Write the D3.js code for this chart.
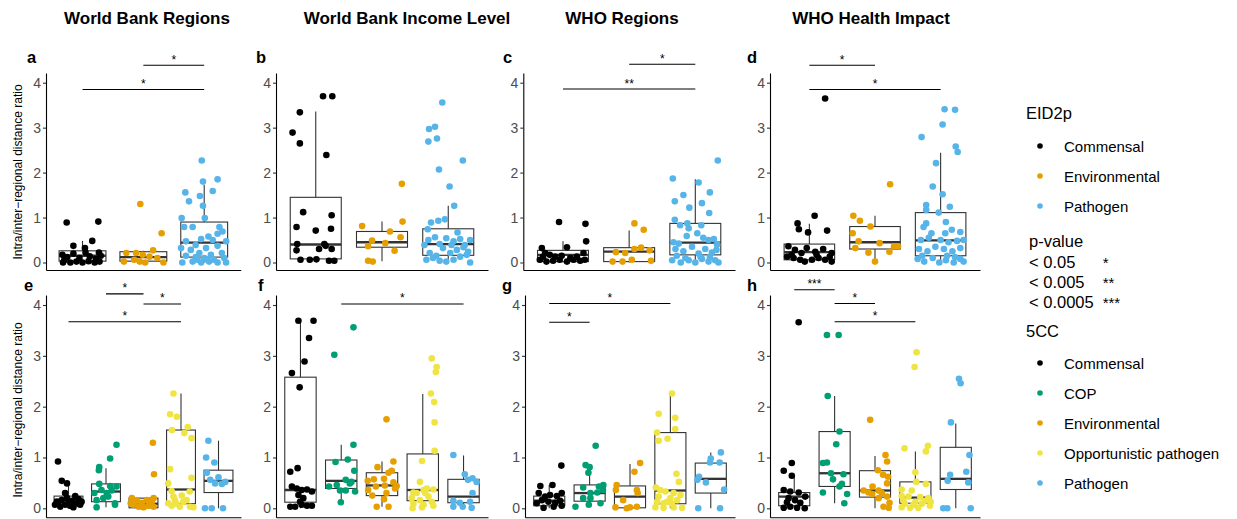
<!DOCTYPE html>
<html>
<head>
<meta charset="utf-8">
<script src="https://cdn.jsdelivr.net/npm/d3@7"></script>
<style>
  body { margin: 0; background: #fff; }
  text { font-family: "Liberation Sans", Arial, Helvetica, sans-serif; }
</style>
</head>
<body>
<svg id="chart" width="1237" height="519"></svg>
<script>
// categories
var eidCats = ["Commensal", "Environmental", "Pathogen"];
var ccCats = ["Commensal", "COP", "Environmental", "Opportunistic pathogen", "Pathogen"];
var catColors = {
  "Commensal": "#000000",
  "COP": "#009E73",
  "Environmental": "#E69F00",
  "Opportunistic pathogen": "#F0E442",
  "Pathogen": "#56B4E9"
};
var columnTitles = ["World Bank Regions", "World Bank Income Level", "WHO Regions", "WHO Health Impact"];
var yTicks = [0, 1, 2, 3, 4];
var yTitle = "Intra/inter\u2212regional distance ratio";
var pLegend = [["< 0.05", "*"], ["< 0.005", "**"], ["< 0.0005", "***"]];

// points: [jitter (fraction of category step), ratio]
var ptsA = [
  [[-0.26,0.89],[0.26,0.91],[-0.15,0.37],[0.16,0.48],[0.04,0.32],[-0.33,0.17],[0.27,0.22],[-0.3,0.05],[-0.2,0],[-0.1,0.02],[0,0],[0.1,0.03],[0.2,0],[0.28,0.02],[-0.25,0.12],[-0.05,0.1],[0.12,0.14],[0.22,0.08],[-0.15,0.2],[0.05,0.22],[0.3,0.15],[-0.32,0]],
  [[-0.05,1.3],[0.3,0.65],[-0.32,0.02],[-0.15,0.06],[-0.12,0.21],[-0.01,0.17],[0.03,0],[0.16,0.27],[0.23,0.1],[-0.28,0.21],[0.1,0.13],[0.33,0],[-0.06,0.02]],
  [[-0.04,2.27],[-0.31,1.56],[-0.07,1.48],[-0.25,1.36],[0.22,1.85],[-0.02,1.8],[0.14,1.59],[-0.02,1.26],[-0.37,0.99],[0.01,0.99],[-0.33,0.79],[-0.19,0.79],[0.25,0.79],[0.3,0.69],[0.07,0.58],[0.22,0.64],[-0.05,0.52],[0.14,0.5],[-0.3,0.47],[0.36,0.47],[-0.14,0.39],[0.03,0.32],[0.22,0.37],[-0.38,0.32],[-0.22,0.28],[-0.08,0.21],[0.11,0.17],[0.29,0.21],[-0.3,0.15],[-0.14,0.12],[0,0.1],[0.16,0.06],[0.33,0.1],[-0.36,0],[-0.19,0.02],[-0.05,0],[0.08,0.02],[0.22,0],[0.36,0],[0.05,0.06],[-0.11,0.06]]
];
var ptsB = [
  [[-0.24,3.34],[-0.35,2.89],[-0.24,2.65],[0.11,3.7],[0.25,3.7],[0.16,2.39],[-0.19,1.12],[0.24,1.05],[-0.29,0.79],[0,0.71],[0.23,0.75],[-0.28,0.41],[-0.29,0.27],[0.05,0.3],[0.13,0.41],[0.24,0.3],[-0.23,0.06],[-0.09,0.06],[0.01,0.07],[0.2,0.04],[0.28,0.04],[0.15,0.37]],
  [[-0.3,0.81],[0.31,0.91],[0.12,0.69],[0.3,1.75],[-0.15,0.49],[-0.21,0.36],[0.05,0.43],[0.19,0.26],[0.28,0.56],[-0.21,0.04],[-0.14,0.02]],
  [[-0.09,3.56],[-0.29,2.97],[-0.2,3.02],[-0.3,2.69],[-0.17,2.76],[-0.14,2.07],[0.22,2.27],[0.02,1.69],[0.09,1.26],[-0.26,0.89],[-0.15,0.93],[-0.05,0.96],[-0.31,0.74],[0.14,0.67],[-0.3,0.5],[-0.2,0.56],[-0.13,0.41],[-0.03,0.54],[0.08,0.47],[0.18,0.52],[0.25,0.39],[0.33,0.5],[-0.28,0.21],[-0.18,0.15],[-0.08,0.32],[0.03,0.21],[0.13,0.28],[0.23,0.34],[0.3,0.24],[-0.33,0.06],[-0.23,0.1],[-0.13,0.04],[-0.03,0.02],[0.08,0.06],[0.18,0.13],[0.28,0.17],[0.33,0],[0.05,0.39],[-0.36,0.39]]
];
var ptsC = [
  [[-0.06,0.9],[0.34,0.86],[0.35,0.47],[0.06,0.34],[-0.32,0.32],[-0.27,0.21],[-0.2,0.17],[-0.12,0.13],[-0.02,0.15],[0.11,0.1],[0.21,0.13],[0.31,0.21],[-0.35,0.06],[-0.25,0.02],[-0.15,0.04],[-0.05,0.06],[0.06,0.02],[0.16,0.06],[0.26,0.04],[0.33,0.06],[-0.3,0.13]],
  [[0.08,0.87],[0.22,0.73],[-0.2,0.23],[0.08,0.3],[0.18,0.33],[0.31,0.27],[-0.25,0.02],[-0.1,0.02],[0.04,0.06],[0.33,0.04],[-0.06,0.21]],
  [[0.34,2.27],[-0.34,1.87],[0.05,1.78],[0.22,1.56],[-0.18,1.5],[-0.31,1.36],[0.1,1.32],[-0.09,1.22],[0.21,1.1],[-0.31,0.95],[-0.12,0.87],[-0.23,0.83],[-0.1,0.76],[0.09,0.83],[0.03,0.65],[-0.13,0.59],[-0.33,0.45],[-0.25,0.42],[0.12,0.55],[0.2,0.5],[0.28,0.52],[0.33,0.4],[-0.3,0.3],[-0.18,0.25],[-0.05,0.35],[0.05,0.2],[0.15,0.3],[0.25,0.22],[0.32,0.28],[-0.35,0.05],[-0.22,0],[-0.1,0.05],[0,0],[0.1,0.08],[0.2,0.02],[0.3,0.05],[-0.28,0.15],[0.08,0.12],[0.22,0.12],[-0.15,0.1],[0.35,0]]
];
var ptsD = [
  [[0.24,3.65],[0.08,1.04],[-0.18,0.87],[-0.16,0.74],[-0.02,0.67],[0.27,0.71],[-0.32,0.36],[-0.22,0.28],[-0.12,0.21],[-0.04,0.32],[0.09,0.24],[0.21,0.3],[0.34,0.21],[-0.34,0.13],[-0.24,0.1],[-0.14,0.06],[-0.07,0.02],[0.04,0.06],[0.14,0.1],[0.24,0.06],[0.34,0.02],[-0.27,0.17],[0.11,0.17],[0.31,0.13]],
  [[0.23,1.74],[-0.33,1.04],[-0.23,0.93],[-0.07,0.8],[-0.34,0.65],[-0.25,0.47],[0.07,0.43],[0.29,0.36],[0.35,0.36],[0.22,0.24],[-0.3,0.32],[-0.1,0.22],[0,0.02]],
  [[0.06,3.41],[0.22,3.4],[0.03,3.07],[-0.29,2.79],[0.23,2.58],[0.26,2.46],[-0.07,2.21],[-0.12,1.69],[0.03,1.52],[-0.22,1.28],[0.14,1.24],[-0.22,1.17],[-0.03,1.11],[-0.22,0.87],[0.08,0.9],[-0.26,0.79],[0.17,0.73],[0.3,0.68],[-0.14,0.65],[0.07,0.65],[-0.3,0.5],[-0.18,0.55],[0,0.5],[0.12,0.45],[0.25,0.48],[0.35,0.5],[-0.33,0.3],[-0.2,0.25],[-0.08,0.35],[0.05,0.3],[0.18,0.25],[0.3,0.32],[-0.35,0.08],[-0.25,0.02],[-0.12,0.1],[-0.02,0],[0.08,0.05],[0.2,0],[0.3,0.08],[-0.28,0.15],[0.1,0.15],[0.22,0.12],[0.35,0.02]]
];
var ptsE = [
  [[-0.28,0.92],[-0.18,0.54],[-0.04,0.49],[-0.09,0.3],[0.18,0.24],[-0.31,0.13],[-0.18,0.16],[-0.04,0.2],[0.09,0.15],[0.27,0.18],[0.35,0.13],[-0.36,0.07],[-0.22,0.03],[-0.09,0.07],[0.04,0.05],[0.18,0.09],[0.31,0.07],[-0.27,0.11],[0,0.11],[0.13,0.02]],
  [[0.28,1.25],[0.11,0.98],[-0.18,0.81],[-0.19,0.75],[-0.18,0.48],[0.11,0.44],[-0.31,0.3],[-0.12,0.36],[0.02,0.3],[0.15,0.35],[0.28,0.43],[-0.25,0.16],[-0.07,0.2],[0.06,0.23],[0.24,0.1],[-0.25,0.02],[0.24,0.07]],
  [[0.25,1.29],[0.28,0.67],[-0.31,0.2],[-0.18,0.15],[-0.04,0.11],[0.09,0.16],[0.22,0.13],[0.27,0.2],[-0.27,0.07],[-0.13,0.03],[0,0.02],[0.13,0.05],[0.27,0.03],[-0.34,0.1]],
  [[-0.2,2.26],[-0.29,1.85],[-0.11,1.8],[-0.24,1.54],[0.18,1.6],[0.09,1.48],[0.28,1.38],[-0.29,0.77],[0.28,0.6],[-0.34,0.49],[-0.25,0.34],[0.23,0.33],[0.02,0.25],[-0.2,0.23],[0.15,0.16],[-0.34,0.1],[-0.12,0.09],[-0.25,0.05],[-0.03,0.03],[0.24,0.03],[0.33,0.02],[-0.16,0.16],[0.06,0.13]],
  [[-0.27,1.33],[-0.33,1],[-0.11,0.9],[-0.31,0.7],[0,0.61],[-0.22,0.56],[-0.09,0.49],[0.09,0.48],[0.18,0.52],[-0.36,0],[-0.18,0],[0.12,0]]
];
var ptsF = [
  [[-0.05,3.69],[0.32,3.69],[0.21,3.35],[0.1,2.89],[-0.21,2.66],[-0.02,2.38],[-0.25,0.72],[-0.07,0.79],[-0.21,0.43],[-0.09,0.39],[0.03,0.36],[0.16,0.37],[0.28,0.33],[-0.05,0.26],[0.07,0.2],[-0.01,0.13],[-0.25,0.03],[-0.13,0.03],[0.03,0.07],[0.16,0.05],[0.28,0.05]],
  [[0.3,3.56],[-0.17,3.02],[0.3,1.25],[-0.14,0.91],[0.16,0.96],[0.32,0.74],[-0.3,0.43],[-0.11,0.46],[0.11,0.56],[0.25,0.52],[-0.03,0.35],[0.11,0.35],[0.34,0.33],[-0.01,0.12],[0.21,0.49]],
  [[0.11,1.75],[-0.11,0.81],[0.28,0.92],[0.16,0.7],[0.24,0.74],[-0.35,0.54],[-0.2,0.57],[0.05,0.58],[0.28,0.51],[-0.34,0.36],[-0.15,0.43],[0.07,0.45],[0.32,0.39],[-0.24,0.25],[0.11,0.3],[0.05,0.18],[-0.13,0.03],[0.16,0.03],[0.36,0.44]],
  [[0.22,2.95],[0.34,2.78],[0.32,2.68],[0.2,2.26],[0.28,2.09],[0.29,1.69],[0.29,1.13],[-0.02,0.93],[-0.07,0.52],[0.26,0.37],[-0.23,0.31],[0.02,0.36],[0.06,0.3],[0.14,0.23],[-0.27,0.2],[-0.07,0.16],[0.22,0.13],[-0.23,0.09],[0.02,0.07],[0.26,0.05],[-0.25,0],[-0.02,0.02],[-0.15,0.3],[0.1,0.39]],
  [[-0.25,1.05],[0.03,0.67],[0.22,0.59],[0.11,0.56],[0.32,0.52],[0.22,0.3],[-0.25,0.15],[-0.09,0.11],[0.16,0.13],[-0.25,0.03],[-0.02,0.03],[0.2,0.01]]
];
var ptsG = [
  [[0.3,0.84],[-0.22,0.44],[0.08,0.46],[-0.26,0.3],[-0.1,0.23],[0.02,0.26],[0.19,0.24],[0.31,0.3],[-0.18,0.16],[-0.02,0.13],[0.15,0.11],[0.27,0.15],[-0.14,0.01],[0.11,0.03],[0.31,0.05],[-0.31,0.1]],
  [[0.15,1.23],[-0.1,0.85],[0,0.81],[-0.03,0.7],[0.23,0.43],[0.34,0.46],[-0.16,0.41],[0.02,0.3],[0.19,0.31],[0.33,0.36],[-0.16,0.2],[0.02,0.2],[-0.35,0.03],[-0.02,0.07],[0.27,0.1]],
  [[0.25,0.89],[0.11,0.72],[-0.33,0.46],[-0.35,0.36],[0.17,0.36],[0.19,0.3],[-0.36,0.02],[-0.08,0],[0,0.02],[0.17,0.03],[-0.17,0.16]],
  [[0.04,2.26],[-0.29,1.86],[0.12,1.78],[0.12,1.56],[-0.33,1.49],[-0.07,1.37],[-0.29,1.33],[0.15,0.68],[0.21,0.52],[-0.36,0.41],[-0.25,0.36],[-0.12,0.33],[0.08,0.3],[0.25,0.26],[-0.29,0.23],[0,0.2],[0.17,0.16],[-0.33,0.13],[-0.17,0.1],[0.04,0.09],[-0.37,0.02],[-0.17,0.01],[0.08,0.02],[0.29,0.01],[-0.08,0.13]],
  [[0.25,1.1],[0,0.98],[0.22,0.9],[-0.02,0.9],[-0.29,0.62],[-0.33,0.56],[-0.12,0.51],[0.33,0.37],[-0.31,0],[0.23,0]]
];
var ptsH = [
  [[0.11,3.66],[-0.06,0.89],[-0.26,0.74],[-0.06,0.64],[-0.26,0.36],[-0.1,0.33],[0.11,0.31],[0.27,0.23],[-0.14,0.2],[0.02,0.16],[-0.18,0.12],[0.15,0.11],[-0.26,0.01],[-0.1,0.03],[0.07,0.01],[0.26,0]],
  [[-0.19,3.41],[0.1,3.41],[-0.17,2.21],[0.12,1.51],[0.04,1.26],[-0.29,0.89],[-0.19,0.9],[-0.09,0.69],[0.22,0.67],[-0.04,0.57],[0.18,0.48],[0.12,0.43],[-0.29,0.31],[0.31,0.28],[0.24,0.1]],
  [[-0.12,1.74],[0.26,1.05],[0.3,0.92],[0.07,0.75],[0.2,0.66],[0.3,0.49],[-0.28,0.35],[-0.16,0.31],[-0.06,0.43],[0.09,0.35],[-0.07,0.28],[0.17,0.3],[0.09,0.2],[0.3,0.23],[0.36,0.11],[0.21,0.03],[0.34,0.01],[0.32,0.62]],
  [[0.03,3.07],[-0.02,2.78],[-0.27,1.18],[0.31,1.23],[0.26,1.12],[0,0.71],[0.02,0.52],[0.26,0.48],[-0.34,0.37],[-0.09,0.35],[-0.34,0.24],[-0.17,0.23],[0.12,0.22],[0.32,0.2],[-0.3,0.16],[0,0.13],[0.24,0.15],[0.38,0.13],[-0.26,0.09],[-0.05,0.07],[0.16,0.09],[-0.34,0.02],[-0.13,0.01],[0.07,0.01],[0.36,0.05]],
  [[0.08,2.55],[0.12,2.46],[-0.12,1.69],[0.34,1.05],[-0.14,0.66],[0.26,0.72],[-0.2,0.54],[0.31,0.51],[-0.31,0],[-0.21,0],[0.37,0]]
];

// box stats: [lower whisker, q1, median, q3, upper whisker]
var boxA = [[0,0.03,0.15,0.26,0.48],[0,0.03,0.12,0.24,0.26],[0,0.12,0.44,0.90,1.73]];
var boxB = [[0.03,0.08,0.40,1.45,3.36],[0.03,0.34,0.45,0.69,0.91],[0,0.16,0.41,0.75,1.26]];
var boxC = [[0,0.02,0.17,0.27,0.47],[0,0.02,0.24,0.33,0.71],[0,0.17,0.44,0.87,1.85]];
var boxD = [[0,0.06,0.23,0.41,0.86],[0.02,0.30,0.45,0.80,1.04],[0,0.15,0.49,1.11,2.44]];
var boxE = [[0,0.07,0.17,0.24,0.52],[0.02,0.13,0.33,0.48,0.79],[0,0.01,0.09,0.20,0.20],[0,0.09,0.37,1.54,2.26],[0,0.31,0.54,0.75,1.33]];
var boxF = [[0,0.12,0.36,2.58,3.69],[0.12,0.39,0.54,0.95,1.25],[0.03,0.25,0.45,0.70,0.92],[0,0.15,0.36,1.07,2.25],[0,0.11,0.23,0.57,1.04]];
var boxG = [[0,0.05,0.15,0.24,0.46],[0.03,0.14,0.30,0.46,0.72],[0,0.01,0.23,0.44,0.87],[0,0.09,0.35,1.49,2.26],[0,0.30,0.58,0.89,1.10]];
var boxH = [[0,0.05,0.23,0.31,0.62],[0.10,0.43,0.69,1.51,2.21],[0,0.22,0.35,0.74,1.03],[0,0.10,0.21,0.52,1.12],[0,0.37,0.58,1.20,1.67]];

// significance brackets: [from category, to category, height, label]
var sigA = [[1,2,4.39,"*"],[0,2,3.85,"*"]];
var sigB = [];
var sigC = [[1,2,4.41,"*"],[0,2,3.86,"**"]];
var sigD = [[0,1,4.39,"*"],[0,2,3.85,"*"]];
var sigE = [[1,2,4.22,"*"],[2,3,4.02,"*"],[0,3,3.67,"*"]];
var sigF = [[1,4,4.02,"*"]];
var sigG = [[0,3,4.03,"*"],[0,1,3.66,"*"]];
var sigH = [[0,1,4.3,"***"],[1,2,4.03,"*"],[1,3,3.67,"*"]];

// layout
var rows = [
  { top: 73, bottom: 270, domain: [-0.167, 4.216], letterY: 62.5, titleY: 172 },
  { top: 295, bottom: 517.3, domain: [-0.177, 4.197], letterY: 291, titleY: 410 }
];
var panels = [
  { id: "a", row: 0, cats: eidCats, pts: ptsA, box: boxA, sig: sigA, x0: 46, x1: 240.7, lx: 27 },
  { id: "b", row: 0, cats: eidCats, pts: ptsB, box: boxB, sig: sigB, x0: 276, x1: 488, lx: 256 },
  { id: "c", row: 0, cats: eidCats, pts: ptsC, box: boxC, sig: sigC, x0: 523.3, x1: 735, lx: 503 },
  { id: "d", row: 0, cats: eidCats, pts: ptsD, box: boxD, sig: sigD, x0: 770, x1: 980, lx: 747 },
  { id: "e", row: 1, cats: ccCats, pts: ptsE, box: boxE, sig: sigE, x0: 46, x1: 241, lx: 24 },
  { id: "f", row: 1, cats: ccCats, pts: ptsF, box: boxF, sig: sigF, x0: 276, x1: 488, lx: 258 },
  { id: "g", row: 1, cats: ccCats, pts: ptsG, box: boxG, sig: sigG, x0: 525, x1: 735, lx: 502 },
  { id: "h", row: 1, cats: ccCats, pts: ptsH, box: boxH, sig: sigH, x0: 770, x1: 980, lx: 747 }
];
var titleX = [147, 407, 622, 871];

var svg = d3.select("#chart");
var boxColor = "#333333";

// column titles
svg.selectAll(".coltitle")
    .data(columnTitles)
    .enter().append("text")
    .attr("class", "coltitle")
    .attr("x", function (d, i) { return titleX[i]; })
    .attr("y", 24)
    .attr("text-anchor", "middle")
    .style("font-weight", "bold")
    .style("font-size", "17px")
    .text(function (d) { return d; });

panels.forEach(drawPanel);

function drawPanel(p) {
    var r = rows[p.row];
    var x = d3.scalePoint().domain(p.cats).range([p.x0, p.x1]).padding(0.6);
    var step = x.step();
    var bw = step * 0.77;
    var y = d3.scaleLinear().domain(r.domain).range([r.bottom, r.top]);
    var g = svg.append("g").attr("class", "panel-" + p.id);

    // y axis
    var ya = g.append("g")
        .attr("transform", "translate(" + p.x0 + ",0)")
        .call(d3.axisLeft(y).tickValues(yTicks).tickFormat(d3.format("d"))
            .tickSize(3).tickSizeOuter(0).tickPadding(2));
    ya.select(".domain").attr("stroke", "#000").attr("stroke-width", 1.1);
    ya.selectAll(".tick line").attr("stroke", boxColor).attr("stroke-width", 1.1);
    ya.selectAll(".tick text").attr("fill", "#4D4D4D").style("font-size", "14px")
        .style("font-family", "'Liberation Sans', Arial, sans-serif");

    // x axis (line only)
    var xa = g.append("g")
        .attr("transform", "translate(0," + r.bottom + ")")
        .call(d3.axisBottom(x).tickValues([]).tickSizeOuter(0));
    xa.select(".domain").attr("stroke", "#000").attr("stroke-width", 1.1);

    // boxes
    var bx = g.selectAll(".box")
        .data(p.box)
        .enter().append("g")
        .attr("class", "box");
    bx.append("line")
        .attr("x1", function (d, i) { return x(p.cats[i]); })
        .attr("x2", function (d, i) { return x(p.cats[i]); })
        .attr("y1", function (d) { return y(d[4]); })
        .attr("y2", function (d) { return y(d[0]); })
        .attr("stroke", boxColor).attr("stroke-width", 1.1);
    bx.append("rect")
        .attr("x", function (d, i) { return x(p.cats[i]) - bw / 2; })
        .attr("width", bw)
        .attr("y", function (d) { return y(d[3]); })
        .attr("height", function (d) { return y(d[1]) - y(d[3]); })
        .attr("fill", "#fff")
        .attr("stroke", boxColor).attr("stroke-width", 1.1);
    bx.append("line")
        .attr("x1", function (d, i) { return x(p.cats[i]) - bw / 2; })
        .attr("x2", function (d, i) { return x(p.cats[i]) + bw / 2; })
        .attr("y1", function (d) { return y(d[2]); })
        .attr("y2", function (d) { return y(d[2]); })
        .attr("stroke", boxColor).attr("stroke-width", 2.3);

    // jittered points
    p.pts.forEach(function (grp, i) {
        g.selectAll(".pt" + i)
            .data(grp)
            .enter().append("circle")
            .attr("class", "pt" + i)
            .attr("cx", function (d) { return x(p.cats[i]) + d[0] * step; })
            .attr("cy", function (d) { return y(d[1]); })
            .attr("r", 3.3)
            .attr("fill", catColors[p.cats[i]]);
    });

    // significance brackets
    var sg = g.selectAll(".sig")
        .data(p.sig)
        .enter().append("g")
        .attr("class", "sig");
    sg.append("line")
        .attr("x1", function (d) { return x(p.cats[d[0]]); })
        .attr("x2", function (d) { return x(p.cats[d[1]]); })
        .attr("y1", function (d) { return y(d[2]); })
        .attr("y2", function (d) { return y(d[2]); })
        .attr("stroke", "#000").attr("stroke-width", 1.1);
    sg.append("text")
        .attr("x", function (d) { return (x(p.cats[d[0]]) + x(p.cats[d[1]])) / 2; })
        .attr("y", function (d) { return y(d[2]) - 1.5; })
        .attr("text-anchor", "middle")
        .style("font-size", "12px")
        .text(function (d) { return d[3]; });

    // panel letter
    g.append("text")
        .attr("x", p.lx)
        .attr("y", r.letterY)
        .style("font-weight", "bold")
        .style("font-size", "16.5px")
        .text(p.id);

    if (p.x0 < 100) {
        g.append("text")
            .attr("transform", "translate(21.5," + r.titleY + ") rotate(-90)")
            .attr("text-anchor", "middle")
            .style("font-size", "12px")
            .text(yTitle);
    }
}

// legends
function drawLegend(title, cats, titleY, firstY) {
    var lg = svg.append("g");
    lg.append("text")
        .attr("x", 1026).attr("y", titleY)
        .style("font-size", "16.5px")
        .text(title);
    var it = lg.selectAll(".item")
        .data(cats)
        .enter().append("g")
        .attr("class", "item")
        .attr("transform", function (d, i) { return "translate(0," + (firstY + i * 30) + ")"; });
    it.append("circle").attr("cx", 1040).attr("cy", 0).attr("r", 2.8)
        .attr("fill", function (d) { return catColors[d]; });
    it.append("text").attr("x", 1064).attr("y", 5.5)
        .style("font-size", "15px")
        .text(function (d) { return d; });
}
drawLegend("EID2p", eidCats, 119, 146);
drawLegend("5CC", ccCats, 337, 363);

var pv = svg.append("g");
pv.append("text").attr("x", 1029).attr("y", 247).style("font-size", "16.5px").text("p-value");
pv.selectAll(".pl")
    .data(pLegend)
    .enter().append("text")
    .attr("class", "pl")
    .attr("x", 1029)
    .attr("y", function (d, i) { return 268 + i * 20; })
    .style("font-size", "16.5px")
    .text(function (d) { return d[0]; });
pv.selectAll(".ps")
    .data(pLegend)
    .enter().append("text")
    .attr("class", "ps")
    .attr("x", 1102.7)
    .attr("y", function (d, i) { return 268 + i * 20; })
    .style("font-size", "15px")
    .text(function (d) { return d[1]; });
</script>
</body>
</html>
